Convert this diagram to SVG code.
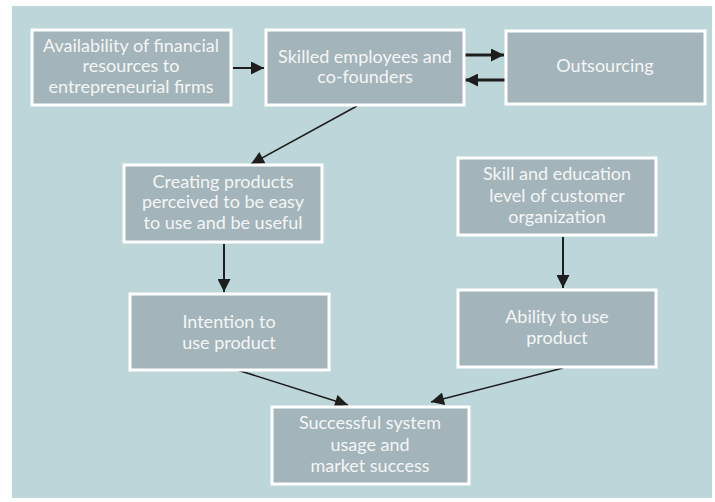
<svg xmlns="http://www.w3.org/2000/svg" width="715" height="502" viewBox="0 0 715 502">
<defs>
<style>
.box{fill:#a3b4ba;stroke:#ffffff;stroke-width:3}
.t{font-family:Lato,"Open Sans","DejaVu Sans",sans-serif;font-size:18px;fill:#f4f6f6;text-anchor:middle}
.c{stroke:#1e1e1e;fill:none}
</style>
<marker id="ah" viewBox="0 0 10 10" refX="10" refY="5" markerWidth="15" markerHeight="13" markerUnits="userSpaceOnUse" orient="auto">
<path d="M0,0 L10,5 L0,10 z" fill="#1e1e1e"/>
</marker>
</defs>
<rect x="0" y="0" width="715" height="502" fill="#ffffff"/>
<rect x="12" y="6" width="700" height="492" fill="#bdd6da"/>
<g id="connectors">
<line class="c" x1="233" y1="68" x2="264" y2="68" stroke-width="2" marker-end="url(#ah)"/>
<line class="c" x1="464" y1="55" x2="504" y2="55" stroke-width="3" marker-end="url(#ah)"/>
<line class="c" x1="505" y1="80" x2="465" y2="80" stroke-width="3" marker-end="url(#ah)"/>
<line class="c" x1="357" y1="106" x2="251" y2="164" stroke-width="1.5" marker-end="url(#ah)"/>
<line class="c" x1="224" y1="244" x2="224" y2="292" stroke-width="2" marker-end="url(#ah)"/>
<line class="c" x1="563" y1="237" x2="563" y2="288" stroke-width="2" marker-end="url(#ah)"/>
<line class="c" x1="231" y1="368" x2="348" y2="405" stroke-width="1.5" marker-end="url(#ah)"/>
<line class="c" x1="563" y1="368" x2="431" y2="402" stroke-width="1.5" marker-end="url(#ah)"/>
</g>
<g id="n1"><rect class="box" x="32" y="30" width="199" height="75"/>
<text class="t" x="131" y="52">Availability of financial</text>
<text class="t" x="131" y="72">resources to</text>
<text class="t" x="131" y="93">entrepreneurial firms</text></g>
<g id="n2"><rect class="box" x="266" y="30" width="198" height="75"/>
<text class="t" x="365" y="63">Skilled employees and</text>
<text class="t" x="365" y="83">co-founders</text></g>
<g id="n3"><rect class="box" x="506" y="31" width="199" height="73"/>
<text class="t" x="605" y="72">Outsourcing</text></g>
<g id="n4"><rect class="box" x="124" y="165" width="198" height="77"/>
<text class="t" x="223" y="188">Creating products</text>
<text class="t" x="223" y="208">perceived to be easy</text>
<text class="t" x="223" y="229">to use and be useful</text></g>
<g id="n5"><rect class="box" x="458" y="158" width="198" height="77"/>
<text class="t" x="557" y="180">Skill and education</text>
<text class="t" x="557" y="202">level of customer</text>
<text class="t" x="557" y="223">organization</text></g>
<g id="n6"><rect class="box" x="130" y="294" width="199" height="76"/>
<text class="t" x="229" y="328">Intention to</text>
<text class="t" x="229" y="349">use product</text></g>
<g id="n7"><rect class="box" x="458" y="290" width="198" height="77"/>
<text class="t" x="557" y="323">Ability to use</text>
<text class="t" x="557" y="344">product</text></g>
<g id="n8"><rect class="box" x="272" y="407" width="197" height="77"/>
<text class="t" x="370" y="429">Successful system</text>
<text class="t" x="370" y="451">usage and</text>
<text class="t" x="370" y="472">market success</text></g>
</svg>
